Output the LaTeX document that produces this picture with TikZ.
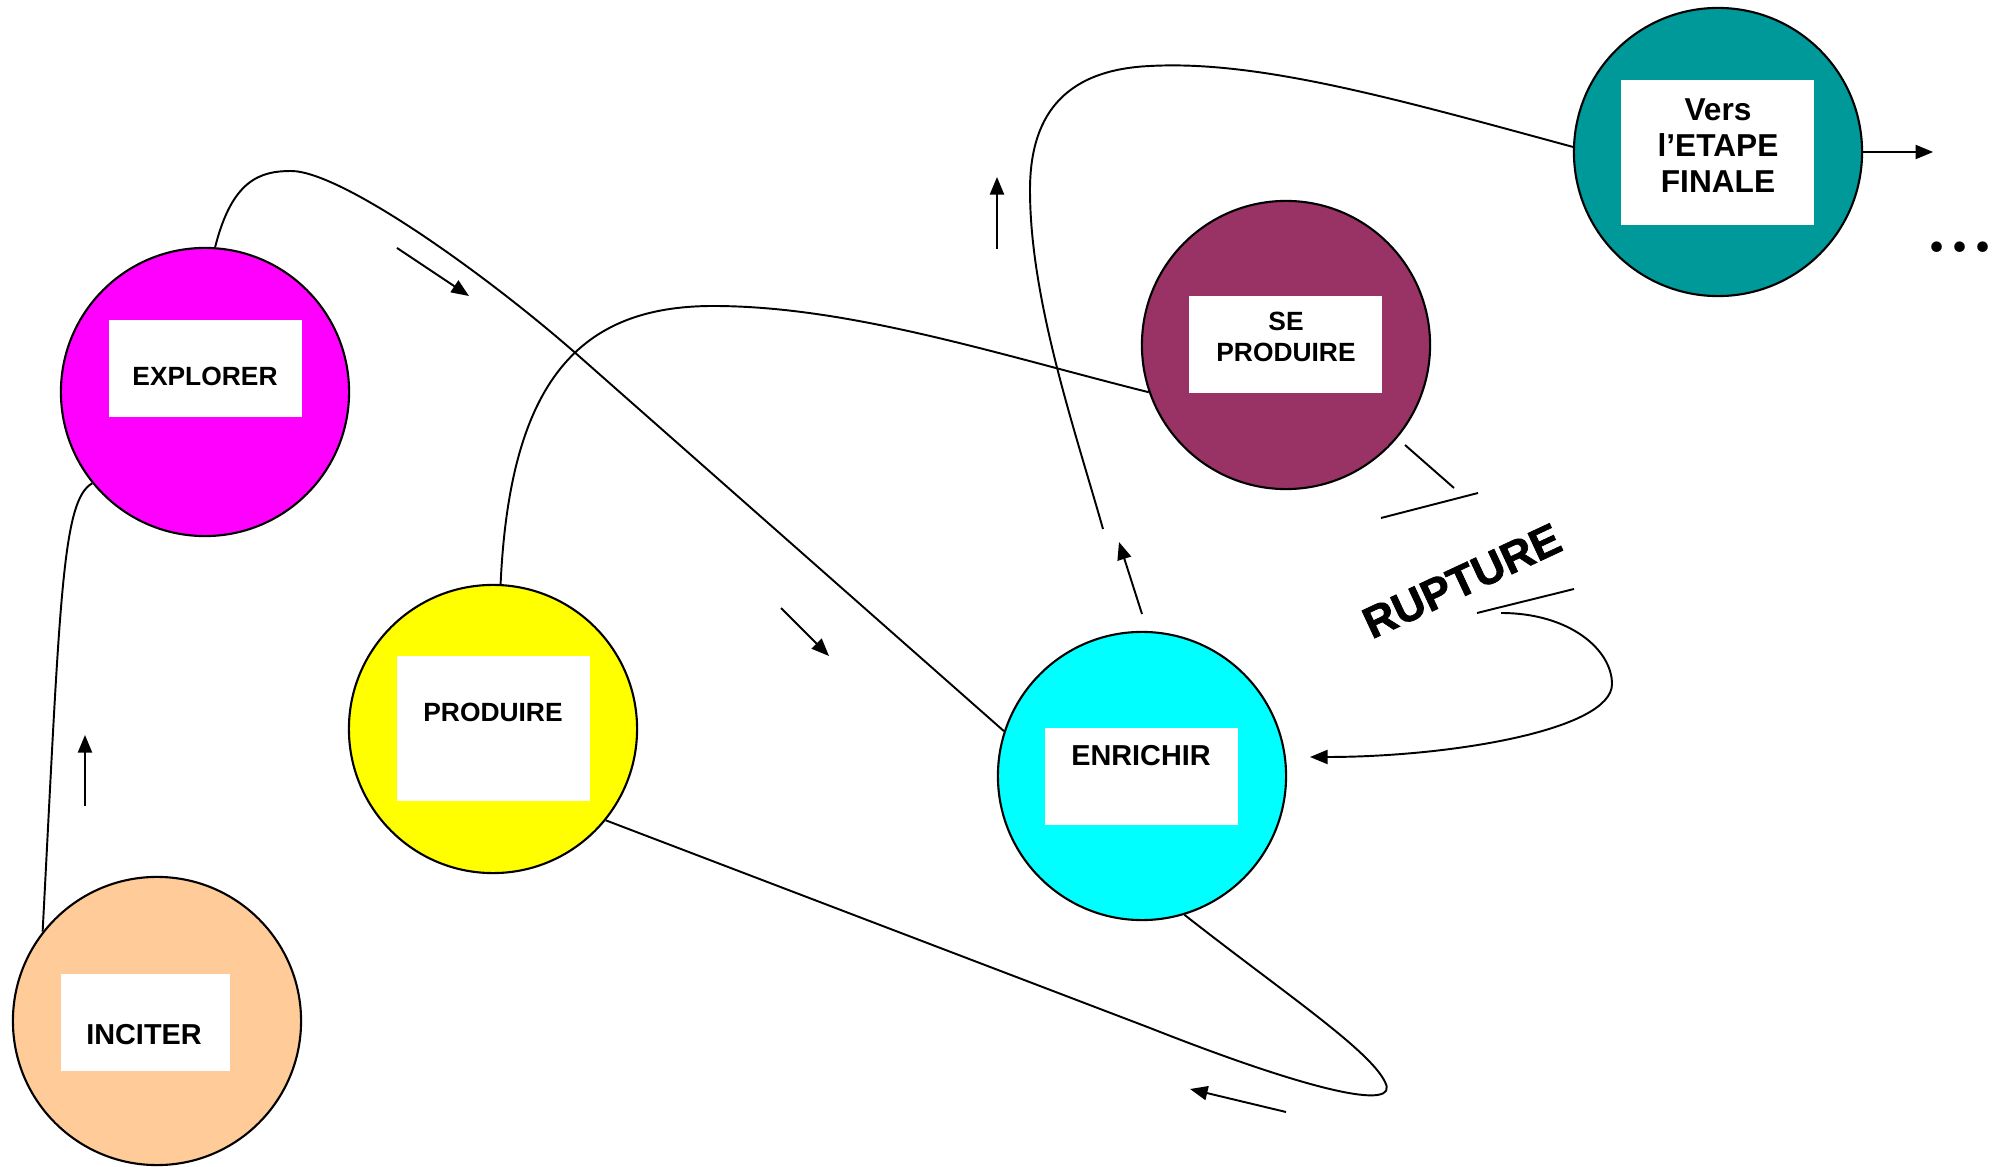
\documentclass[tikz,border=0pt]{standalone}
\usepackage{fontspec}
\setmainfont{Liberation Sans}
\newfontfamily\heavyfont{Liberation Sans}[BoldFeatures={FakeBold=1.6}]
\newfontfamily\roundfont{Latin Modern Roman}
\usepackage{xcolor}
\usetikzlibrary{arrows.meta}
\definecolor{magentaish}{HTML}{FF00FF}
\definecolor{yellowish}{HTML}{FFFF00}
\definecolor{peach}{HTML}{FFCC99}
\definecolor{cyanish}{HTML}{00FFFF}
\definecolor{plum}{HTML}{993366}
\definecolor{tealish}{HTML}{009999}
\tikzset{
    stage/.style={circle, draw, line width=0.6pt, minimum size=2.88cm, inner sep=0pt},
    card/.style 2 args={fill=white, inner sep=0pt, minimum width=#1cm, minimum height=#2cm},
    word/.style 2 args={font=\bfseries\fontsize{#1}{#2}\selectfont, align=center, inner sep=0pt},
    word/.default={7.5}{8.8}
}

\begin{document}
\begin{tikzpicture}[x=0.01cm, y=-0.01cm, line width=0.55pt, >={Triangle[length=5pt,width=4pt]}]
      \useasboundingbox (0,0) rectangle (2008,1167);
      \node[stage, fill=magentaish] (explorer) at (205,392) {};
      \node[stage, fill=yellowish] (produire) at (493,729) {};
      \node[stage, fill=peach] (inciter) at (157,1021) {};
      \node[stage, fill=cyanish] (enrichir) at (1142,776) {};
      \node[stage, fill=plum] (seproduire) at (1286,345) {};
      \node[stage, fill=tealish] (etape) at (1718,152) {};
      \node[card={1.93}{0.97}] (explorer card) at (205.5,368.5) {};
      \node[card={1.93}{1.45}] (produire card) at (493.5,728.5) {};
      \node[card={1.69}{0.97}] (inciter card) at (145.5,1022.5) {};
      \node[card={1.93}{0.97}] (enrichir card) at (1141.5,776.5) {};
      \node[card={1.93}{0.97}] (seproduire card) at (1285.5,344.5) {};
      \node[card={1.93}{1.45}] (etape card) at (1717.5,152.5) {};
      \node[word] (explorer text) at (205,376) {EXPLORER};
      \node[word] (produire text) at (493,712) {PRODUIRE};
      \node[word={8.2}{9.6}] (inciter text) at (144,1035) {INCITER};
      \node[word={8.2}{9.6}] (enrichir text) at (1141,756) {ENRICHIR};
      \node[word] (seproduire text) at (1286,337) {SE\\PRODUIRE};
      \node[word={9}{10.25}] (etape text) at (1718,146) {Vers\\l’ETAPE\\FINALE};
      \node[word={12.5}{14}, rotate=25] (rupture) at (1462,581) {\heavyfont\bfseries RUPTURE};
      \node[word={21}{24}] (dots) at (1960,247) {\roundfont\bfseries ...};
      \draw (inciter.142) .. controls (60,600) and (62,500) .. (explorer.219);
      \draw (explorer.86) .. controls (232,180) and (260,171) .. (291,171)
            .. controls (340,171) and (480,270) .. (572,350) -- (enrichir.162);
      \draw (produire.87) .. controls (510,380) and (580,306) .. (713,306)
            .. controls (850,306) and (1000,355) .. (seproduire.199);
      \draw (produire.-39) -- (1150,1028) .. controls (1320,1095) and (1400,1110) .. (1385,1082)
            .. controls (1370,1050) and (1280,990) .. (enrichir.-73);
      \coordinate (etape bend) at (1103,529);
      \draw (etape.178) .. controls (1400,100) and (1260,60) .. (1150,66)
            .. controls (1060,70) and (1030,120) .. (1030,190)
            .. controls (1030,300) and (1075,430) .. (etape bend);
      \coordinate (rupture out) at (1501,613);
      \coordinate (enrichir in) at (1310,757);
      \draw[->] (rupture out) .. controls (1570,613) and (1612,650) .. (1612,684)
            .. controls (1612,730) and (1450,757) .. (enrichir in);
      \draw (1405,445) -- (1454,488);
      \draw (1381,518) -- (1478,493);
      \draw (1477,613) -- (1574,589);
      \draw[->] (etape.east) -- ++(70,0);
      \draw[->] (85,806) -- (85,735);
      \draw[->] (397,248) -- (469,296);
      \draw[->] (997,249) -- (997,177);
      \draw[->] (781,608) -- (829,656);
      \draw[->] (1142,614) -- (1119,542);
      \draw[->] (1286,1112) -- (1190,1089);
    \end{tikzpicture}
\end{document}
